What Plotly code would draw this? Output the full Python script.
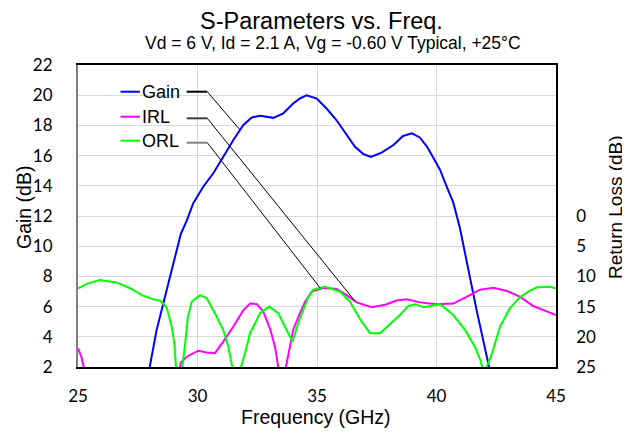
import numpy as np
import plotly.graph_objects as go

# ---------------- data ----------------
gain_freq = [27.6, 28.0, 28.29, 28.64, 28.99, 29.3, 29.55, 29.82, 30.24, 30.66, 31.08, 31.5, 31.92,
             32.27, 32.62, 33.17, 33.59, 34.0, 34.3, 34.57, 34.99, 35.4, 35.82, 36.24, 36.59, 36.94,
             37.25, 37.7, 38.2, 38.6, 38.97, 39.3, 39.6, 39.85, 40.15, 40.44, 40.7, 40.98, 41.27,
             41.7, 42.2, 42.5]
gain_db = [-0.6, 2.0, 4.45, 6.66, 8.9, 10.8, 11.7, 12.84, 13.94, 14.83, 15.93, 17.03, 18.03,
           18.53, 18.64, 18.5, 18.8, 19.45, 19.8, 20.0, 19.78, 19.12, 18.34, 17.36, 16.58, 16.1,
           15.92, 16.2, 16.7, 17.3, 17.48, 17.2, 16.6, 15.9, 15.05, 13.9, 12.9, 11.2, 8.9,
           5.6, 2.0, -0.2]

irl_freq = [25.0, 25.15, 25.4, 29.15, 29.3, 29.55, 30.03, 30.38, 30.73, 31.08, 31.5, 31.92, 32.2,
            32.48, 32.75, 33.03, 33.24, 33.38, 33.5, 33.6, 33.7, 33.87, 34.0, 34.22, 34.5, 34.78,
            35.27, 35.82, 36.24, 36.66, 37.29, 37.85, 38.33, 38.75, 39.31, 40.0, 40.7, 41.26,
            41.82, 42.38, 42.94, 43.5, 44.05, 44.61, 45.0]
irl_db = [21.9, 23.4, 28.0, 28.0, 24.3, 23.3, 22.3, 22.6, 22.7, 20.8, 18.3, 15.6, 14.5,
          14.6, 15.8, 18.6, 21.6, 25.0, 28.0, 28.0, 25.0, 21.6, 18.9, 16.7, 14.2, 12.5,
          11.9, 12.1, 13.1, 14.3, 15.1, 14.7, 14.0, 13.8, 14.3, 14.6, 14.5, 13.4,
          12.2, 11.9, 12.4, 13.4, 14.9, 15.8, 16.4]

orl_freq = [25.0, 25.4, 25.9, 26.6, 27.2, 27.67, 28.15, 28.43, 28.71, 28.92, 29.03, 29.1, 29.25,
            29.38, 29.5, 29.6, 29.76, 30.1, 30.38, 30.73, 31.08, 31.29, 31.47, 31.6, 31.72, 31.82,
            31.99, 32.2, 32.62, 33.0, 33.38, 33.73, 33.97, 34.29, 34.64, 34.85, 35.33, 35.96,
            36.38, 36.87, 37.22, 37.64, 38.05, 38.47, 38.82, 39.1, 39.45, 39.8, 40.15, 40.7,
            41.2, 41.6, 41.85, 41.96, 42.1, 42.3, 42.66, 43.07, 43.5, 43.9, 44.2, 44.75, 45.0]
orl_db = [12.0, 11.2, 10.6, 11.0, 12.0, 13.1, 13.8, 14.0, 15.1, 18.3, 21.1, 25.0, 29.0,
          25.0, 20.5, 16.7, 14.2, 13.1, 13.6, 16.1, 18.9, 21.6, 25.0, 28.0, 28.0, 25.0,
          22.7, 19.4, 16.1, 15.0, 16.1, 18.9, 20.8, 16.9, 13.4, 12.2, 11.7, 12.5,
          14.2, 17.5, 19.4, 19.4, 18.0, 16.4, 14.9, 14.6, 15.1, 14.9, 14.6, 16.4,
          18.9, 21.6, 24.0, 25.8, 25.0, 23.0, 18.3, 15.3, 13.4, 12.4, 11.8, 11.7, 12.0]

x_ticks = [25, 30, 35, 40, 45]
gain_ticks = [2, 4, 6, 8, 10, 12, 14, 16, 18, 20, 22]
rl_ticks = [0, 5, 10, 15, 20, 25]

series_names = ["Gain", "IRL", "ORL"]
series_colors = ["#0000FF", "#FF00FF", "#00FF00"]

# leader-line targets (frequency on each curve)
leader_target_freq = [31.78, 36.59, 35.13]

TXT = "Liberation Sans, Arial, sans-serif"
NUM = "Lato, Calibri, sans-serif"

fig = go.Figure()
fig.add_trace(go.Scatter(x=gain_freq, y=gain_db, mode="lines", name="Gain",
                         line=dict(color=series_colors[0], width=2), showlegend=False))
fig.add_trace(go.Scatter(x=irl_freq, y=irl_db, mode="lines", name="IRL", yaxis="y2",
                         line=dict(color=series_colors[1], width=2), showlegend=False))
fig.add_trace(go.Scatter(x=orl_freq, y=orl_db, mode="lines", name="ORL", yaxis="y2",
                         line=dict(color=series_colors[2], width=2), showlegend=False))

# page body has an 8 px margin: figure is 622x425 placed at (8, 8)
fig.update_layout(
    width=622, height=425,
    margin=dict(l=70, r=74, t=57, b=66),
    plot_bgcolor="white", paper_bgcolor="white",
    xaxis=dict(range=[25, 45], tickvals=x_ticks, showgrid=True, gridcolor="#D9D9D9", gridwidth=1,
               showline=True, linecolor="black", linewidth=2, mirror=True, zeroline=False,
               ticks="", ticklabelstandoff=13, tickfont=dict(family=NUM, size=17, color="black")),
    yaxis=dict(range=[2, 22], tickvals=gain_ticks, showgrid=True, gridcolor="#D9D9D9", gridwidth=1,
               showline=True, linecolor="#808080", linewidth=2, zeroline=False,
               ticks="", ticklabelstandoff=20, tickfont=dict(family=NUM, size=17, color="black")),
    yaxis2=dict(range=[25, -25], tickvals=rl_ticks, overlaying="y", side="right", showgrid=False,
                showline=True, linecolor="black", linewidth=1.5, zeroline=False,
                ticks="", ticklabelstandoff=15, tickfont=dict(family=NUM, size=17, color="black")),
)

# window pixel -> paper coordinates (plot area spans x 78..556, y 65..367 in the window)
def px2paper_x(px):
    return (px - 78) / 478.0

def px2paper_y(py):
    return (367 - py) / 302.0

# legend box (covers gridlines)
fig.add_shape(type="rect", xref="paper", yref="paper", x0=px2paper_x(116), x1=px2paper_x(186),
              y0=px2paper_y(153), y1=px2paper_y(76), fillcolor="white", line=dict(width=0),
              layer="between")

legend_rows_py = [91.7, 116.7, 140.7]
leader_rows_py = [91.7, 118.3, 142.7]
leader_h_colors = ["black", "#404040", "#808080"]

# curve values at leader targets, expressed on the gain axis
def on_gain_axis(i, f):
    if i == 0:
        return float(np.interp(f, gain_freq, gain_db))
    src = (irl_freq, irl_db) if i == 1 else (orl_freq, orl_db)
    rl = float(np.interp(f, src[0], src[1]))
    return 12 - rl / 2.5

def px2freq(px):
    return 25 + (px - 78) / 23.9

def py2gain(py):
    return 2 + (367 - py) / 15.1

for i, name in enumerate(series_names):
    yp = px2paper_y(legend_rows_py[i])
    fig.add_shape(type="line", xref="paper", yref="paper", x0=px2paper_x(120.5), x1=px2paper_x(140),
                  y0=yp, y1=yp, line=dict(color=series_colors[i], width=2), layer="above")
    fig.add_annotation(x=px2paper_x(140), y=yp, xref="paper", yref="paper", text=name,
                       showarrow=False, xanchor="left", yanchor="middle",
                       font=dict(family=TXT, size=18, color="black"))
    gy = py2gain(leader_rows_py[i])
    fx0, fx1 = px2freq(186.7), px2freq(207.3)
    fig.add_shape(type="line", xref="x", yref="y", x0=fx0, x1=fx1, y0=gy, y1=gy,
                  line=dict(color=leader_h_colors[i], width=2), layer="above")
    tf = leader_target_freq[i]
    fig.add_shape(type="line", xref="x", yref="y", x0=fx1, x1=tf, y0=gy, y1=on_gain_axis(i, tf),
                  line=dict(color="black", width=1), layer="above")

# titles
fig.add_annotation(x=px2paper_x(321), y=px2paper_y(21), xref="paper", yref="paper",
                   text="S-Parameters vs. Freq.", showarrow=False, xanchor="center", yanchor="middle",
                   font=dict(family=TXT, size=23.5, color="black"))
fig.add_annotation(x=px2paper_x(333), y=px2paper_y(43), xref="paper", yref="paper",
                   text="Vd = 6 V, Id = 2.1 A, Vg = -0.60 V Typical, +25°C", showarrow=False,
                   xanchor="center", yanchor="middle", font=dict(family=TXT, size=17.5, color="black"))
fig.add_annotation(x=px2paper_x(316), y=px2paper_y(417), xref="paper", yref="paper",
                   text="Frequency (GHz)", showarrow=False, xanchor="center", yanchor="middle",
                   font=dict(family=TXT, size=19.5, color="black"))
fig.add_annotation(x=px2paper_x(24), y=px2paper_y(208), xref="paper", yref="paper",
                   text="Gain (dB)", showarrow=False, textangle=-90, xanchor="center", yanchor="middle",
                   font=dict(family=TXT, size=19.5, color="black"))
fig.add_annotation(x=px2paper_x(615), y=px2paper_y(207), xref="paper", yref="paper",
                   text="Return Loss (dB)", showarrow=False, textangle=-90, xanchor="center",
                   yanchor="middle", font=dict(family=TXT, size=19, color="black"))

fig.write_html("out.html")
